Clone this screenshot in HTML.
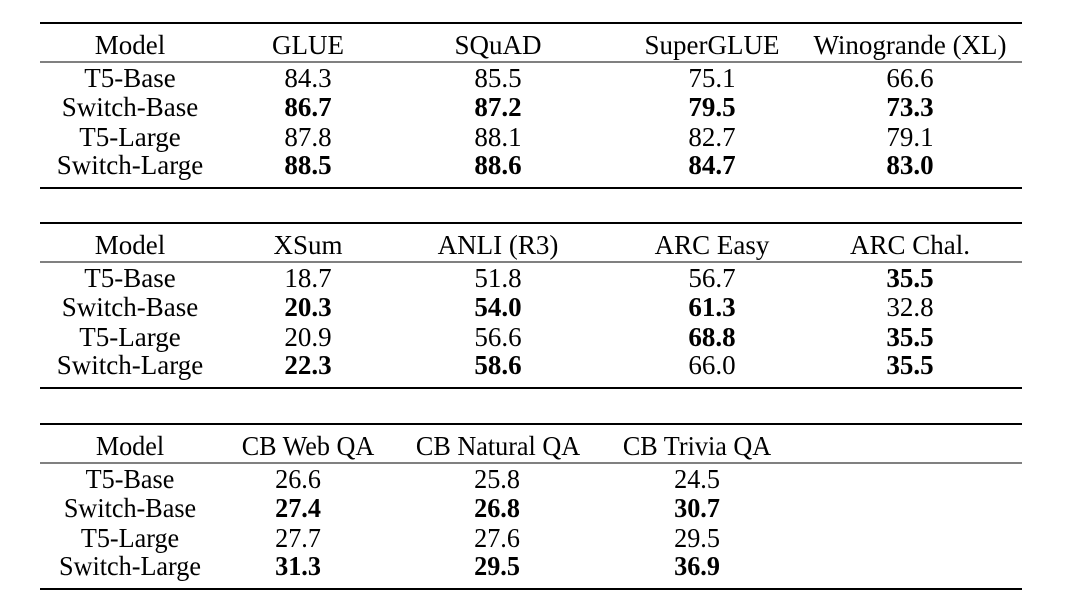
<!DOCTYPE html>
<html><head><meta charset="utf-8"><style>
html,body{margin:0;padding:0;background:#fff;}
svg{display:block;font-family:"Liberation Serif",serif;}
</style></head><body>
<svg id="tbl" width="1080" height="604"></svg>
<script>
const rowModels = ["T5-Base","Switch-Base","T5-Large","Switch-Large"];
const t1Header = ["Model","GLUE","SQuAD","SuperGLUE","Winogrande (XL)"];
const t1Values = [["84.3","85.5","75.1","66.6"],["86.7","87.2","79.5","73.3"],["87.8","88.1","82.7","79.1"],["88.5","88.6","84.7","83.0"]];
const t1Bold = [[0,0,0,0],[1,1,1,1],[0,0,0,0],[1,1,1,1]];
const t2Header = ["Model","XSum","ANLI (R3)","ARC Easy","ARC Chal."];
const t2Values = [["18.7","51.8","56.7","35.5"],["20.3","54.0","61.3","32.8"],["20.9","56.6","68.8","35.5"],["22.3","58.6","66.0","35.5"]];
const t2Bold = [[0,0,0,1],[1,1,1,0],[0,0,1,1],[1,1,0,1]];
const t3Header = ["Model","CB Web QA","CB Natural QA","CB Trivia QA"];
const t3Values = [["26.6","25.8","24.5"],["27.4","26.8","30.7"],["27.7","27.6","29.5"],["31.3","29.5","36.9"]];
const t3Bold = [[0,0,0],[1,1,1],[0,0,0],[1,1,1]];

const svg = document.getElementById('tbl');
const NS = 'http://www.w3.org/2000/svg';
function line(y,w,name){
  const l=document.createElementNS(NS,'line');
  l.setAttribute('x1',40);l.setAttribute('x2',1022);l.setAttribute('y1',y);l.setAttribute('y2',y);
  l.setAttribute('stroke','#000');l.setAttribute('stroke-width',w);
  
  
  svg.appendChild(l);
}
function txt(x,y,s,bold,sx,name){
  const t=document.createElementNS(NS,'text');
  t.setAttribute('transform','translate('+x+','+y+') scale('+sx+',1)');
  t.setAttribute('text-anchor','middle');t.setAttribute('font-size','27');
  if(bold)t.setAttribute('font-weight','bold');
  t.textContent=s;
  
  
  svg.appendChild(t);
}
function table(off,header,values,bold,cols,valCols,sx,id){
  line(off+23,2,id+'-top-rule');
  line(off+62,1,id+'-header-rule');
  line(off+188,2,id+'-bottom-rule');
  header.forEach((h,i)=>txt(cols[i],off+54,h,false,sx,id+'-header-cell'));
  const rowY=[off+87,off+116,off+146,off+174];
  rowModels.forEach((m,r)=>{
    txt(cols[0],rowY[r],m,false,sx,id+'-model-cell');
    values[r].forEach((v,c)=>txt(valCols[c],rowY[r],v,bold[r][c],sx,id+'-value-cell'));
  });
}
table(0,t1Header,t1Values,t1Bold,[130,308,498,712,910],[308,498,712,910],1,'table1');
table(200,t2Header,t2Values,t2Bold,[130,308,498,712,910],[308,498,712,910],1,'table2');
table(401,t3Header,t3Values,t3Bold,[130,308,498,697],[298,497,697],0.97,'table3');
</script>
</body></html>
